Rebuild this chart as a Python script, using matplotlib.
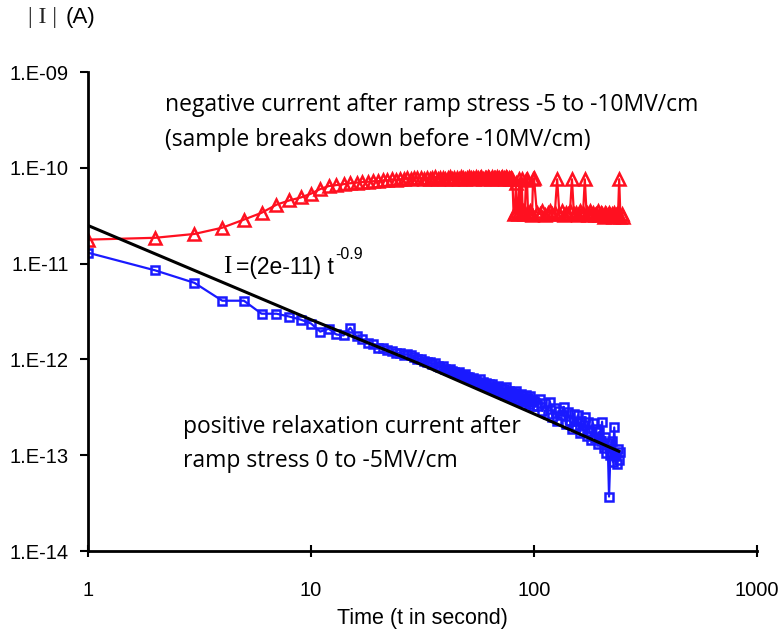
import numpy as np
import matplotlib
matplotlib.use("Agg")
import matplotlib.pyplot as plt

# sampling times (s)
t_blue = np.concatenate([np.arange(1, 101), np.arange(103, 245, 3)])
t_red = np.concatenate([np.arange(1, 101), np.arange(103, 251, 3)])

# positive relaxation current after ramp stress 0 to -5MV/cm (A)
I_blue = [1.30e-11, 8.5e-12, 6.3e-12, 4.1e-12, 4.1e-12, 3.0e-12, 3.0e-12, 2.8e-12, 2.6e-12, 2.37e-12,
          1.95e-12, 2.09e-12, 1.82e-12, 1.78e-12, 2.14e-12, 1.74e-12, 1.62e-12, 1.48e-12, 1.45e-12, 1.33e-12,
          1.32e-12, 1.26e-12, 1.23e-12, 1.17e-12, 1.18e-12, 1.12e-12, 1.13e-12, 1.10e-12, 1.05e-12, 1.02e-12,
          1.00e-12, 9.7e-13, 9.5e-13, 9.3e-13, 9.0e-13, 9.1e-13, 8.6e-13, 8.4e-13, 8.5e-13, 8.0e-13,
          7.8e-13, 8.0e-13, 7.5e-13, 7.4e-13, 7.2e-13, 7.4e-13, 6.9e-13, 6.8e-13, 7.0e-13, 6.5e-13,
          6.6e-13, 6.2e-13, 6.4e-13, 6.0e-13, 6.1e-13, 5.7e-13, 6.2e-13, 5.6e-13, 5.8e-13, 5.4e-13,
          5.7e-13, 5.2e-13, 5.5e-13, 5.0e-13, 5.6e-13, 4.9e-13, 5.2e-13, 4.7e-13, 5.3e-13, 4.6e-13,
          5.0e-13, 4.5e-13, 4.9e-13, 4.3e-13, 5.1e-13, 4.4e-13, 4.7e-13, 4.1e-13, 4.6e-13, 4.2e-13,
          4.5e-13, 3.9e-13, 4.7e-13, 4.0e-13, 4.3e-13, 3.8e-13, 4.4e-13, 3.7e-13, 4.2e-13, 3.9e-13,
          3.6e-13, 4.3e-13, 3.7e-13, 4.0e-13, 3.4e-13, 4.2e-13, 3.6e-13, 3.8e-13, 3.3e-13, 3.7e-13,
          3.3e-13, 3.9e-13, 2.9e-13, 3.5e-13, 2.7e-13, 3.6e-13, 2.5e-13, 3.1e-13, 2.3e-13, 2.9e-13,
          2.6e-13, 3.2e-13, 2.1e-13, 2.8e-13, 2.3e-13, 1.9e-13, 2.7e-13, 2.0e-13, 2.6e-13, 1.7e-13,
          2.3e-13, 1.8e-13, 2.5e-13, 1.6e-13, 2.2e-13, 1.75e-13, 1.45e-13, 2.15e-13, 1.5e-13, 1.9e-13,
          1.3e-13, 1.75e-13, 1.4e-13, 2.24e-13, 1.2e-13, 1.55e-13, 1.05e-13, 1.35e-13, 3.7e-14, 1.0e-13,
          1.4e-13, 8.5e-14, 1.95e-13, 1.0e-13, 8.0e-14, 1.15e-13, 9.0e-14, 1.07e-13]

# negative current after ramp stress -5 to -10MV/cm (A)
I_red = [1.78e-11, 1.86e-11, 2.04e-11, 2.37e-11, 2.88e-11, 3.39e-11, 4.12e-11, 4.57e-11, 4.90e-11, 5.37e-11,
         6.0e-11, 6.45e-11, 6.6e-11, 6.75e-11, 6.9e-11, 7.0e-11, 7.1e-11, 7.15e-11, 7.25e-11, 7.25e-11,
         7.4e-11, 7.4e-11, 7.6e-11, 7.4e-11, 7.6e-11, 7.6e-11, 7.75e-11, 7.6e-11, 7.75e-11, 7.75e-11,
         7.8e-11, 7.7e-11, 7.9e-11, 7.6e-11, 7.8e-11, 8.0e-11, 7.7e-11, 7.9e-11, 7.8e-11, 7.6e-11,
         7.9e-11, 8.0e-11, 7.7e-11, 7.8e-11, 7.9e-11, 7.6e-11, 8.0e-11, 7.8e-11, 7.7e-11, 7.9e-11,
         8.1e-11, 7.8e-11, 7.9e-11, 7.7e-11, 8.0e-11, 7.8e-11, 7.9e-11, 8.1e-11, 7.7e-11, 7.8e-11,
         7.9e-11, 8.0e-11, 7.8e-11, 7.7e-11, 8.1e-11, 7.9e-11, 7.8e-11, 8.0e-11, 7.7e-11, 7.9e-11,
         7.8e-11, 8.0e-11, 7.9e-11, 7.7e-11, 8.0e-11, 7.8e-11, 7.9e-11, 7.7e-11, 7.8e-11, 7.6e-11,
         3.3e-11, 3.4e-11, 7.0e-11, 3.5e-11, 3.3e-11, 7.6e-11, 3.4e-11, 7.7e-11, 3.5e-11, 3.3e-11,
         3.4e-11, 7.5e-11, 7.7e-11, 3.4e-11, 3.3e-11, 3.5e-11, 3.4e-11, 3.2e-11, 7.6e-11, 7.8e-11,
         3.4e-11, 3.3e-11, 3.5e-11, 3.2e-11, 3.4e-11, 3.5e-11, 3.3e-11, 3.4e-11, 7.6e-11, 3.3e-11,
         3.5e-11, 3.2e-11, 3.4e-11, 3.3e-11, 3.5e-11, 7.6e-11, 3.3e-11, 3.4e-11, 3.2e-11, 3.5e-11,
         3.3e-11, 3.4e-11, 7.6e-11, 3.4e-11, 3.2e-11, 3.5e-11, 3.3e-11, 3.4e-11, 3.2e-11, 3.3e-11,
         3.5e-11, 3.2e-11, 3.4e-11, 3.3e-11, 3.1e-11, 3.4e-11, 3.3e-11, 3.2e-11, 3.4e-11, 3.2e-11,
         3.3e-11, 3.1e-11, 3.4e-11, 3.2e-11, 3.3e-11, 3.2e-11, 7.6e-11, 3.1e-11, 3.3e-11, 3.1e-11]

# drawn power-law line
t_fit = [1, 10, 30, 100, 240]
I_fit = [2.5e-11, 2.6e-12, 9.2e-13, 2.7e-13, 1.1e-13]

fig = plt.figure(figsize=(7.83, 6.39), dpi=100)
ax = fig.add_axes([0.1124, 0.1377, 0.8544, 0.7496])

ax.plot(t_red, I_red, color='#ff1020', lw=1.6, marker='^', ms=8, mfc='none', mec='#ff1020', mew=1.8)
ax.plot(t_blue, I_blue, color='#1a1aff', lw=1.6, marker='s', ms=6.3, mfc='none', mec='#1a1aff', mew=1.8)
ax.plot(t_fit, I_fit, color='black', lw=2.2)

ax.set_xscale('log')
ax.set_yscale('log')
ax.set_xlim(1, 1000)
ax.set_ylim(1e-14, 1e-9)
ax.set_xticks([1, 10, 100, 1000])
ax.set_xticklabels(['1', '10', '100', '1000'])
ax.set_yticks([1e-14, 1e-13, 1e-12, 1e-11, 1e-10, 1e-9])
ax.set_yticklabels(['1.E-14', '1.E-13', '1.E-12', '1.E-11', '1.E-10', '1.E-09'])
ax.minorticks_off()
for s in ['top', 'right']:
    ax.spines[s].set_visible(False)
for s in ['left', 'bottom']:
    ax.spines[s].set_linewidth(2)
ax.tick_params(axis='y', direction='out', length=6, width=1.5, pad=8)
ax.tick_params(axis='x', direction='inout', length=9, width=1.5, pad=17)
for lab in ax.get_xticklabels() + ax.get_yticklabels():
    lab.set_family('Liberation Sans')
    lab.set_fontsize(14.5)

ax.set_xlabel('Time (t in second)', family='Liberation Sans', fontsize=15.5, labelpad=6)

tf = dict(family='Open Sans', fontsize=16.5, va='center', ha='left')
ax.text(2.22, 10**-9.344, 'negative current after ramp stress -5 to -10MV/cm', **tf)
ax.text(2.22, 10**-9.71, '(sample breaks down before -10MV/cm)', **tf)
ax.text(2.67, 10**-12.71, 'positive relaxation current after', **tf)
ax.text(2.67, 10**-13.06, 'ramp stress 0 to -5MV/cm', **tf)

ax.text(4.05, 10**-11.04, 'I', family='Liberation Serif', fontsize=18, va='center', ha='left')
eq = ax.text(4.6, 10**-11.04, '=(2e-11) t', family='Liberation Sans', fontsize=16.5,
             va='center', ha='left')
ax.annotate('-0.9', xy=(1.0, 0.75), xycoords=eq, xytext=(1, 0), textcoords='offset points',
            family='Liberation Sans', fontsize=11.5, va='bottom', ha='left')

fig.text(0.036, 0.972, '| I |', family='Liberation Serif', fontsize=17, va='center', ha='left',
         color='#222222')
fig.text(0.084, 0.972, '(A)', family='Liberation Sans', fontsize=16, va='center', ha='left')

fig.savefig('out.png', dpi=100)
